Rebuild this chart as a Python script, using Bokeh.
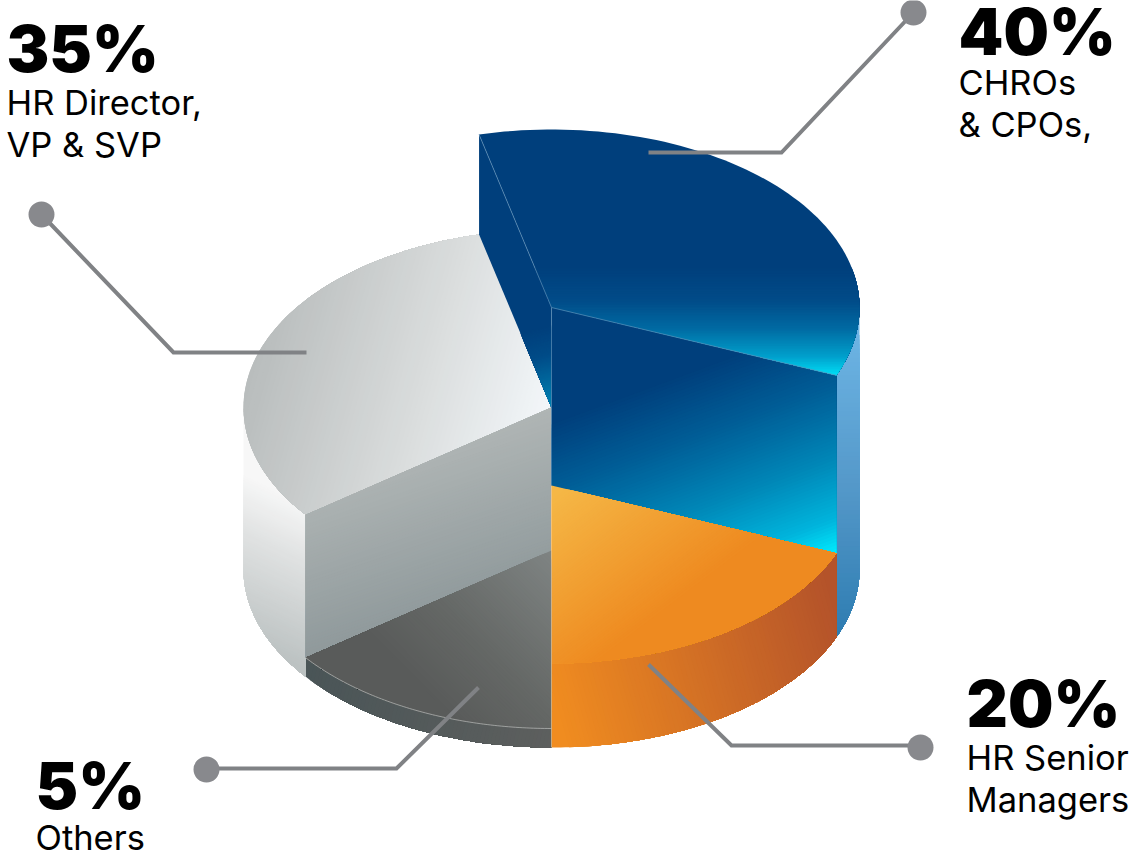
import numpy as np
from bokeh.plotting import figure
from bokeh.models import Range1d
from bokeh.core.properties import value
from bokeh.embed import file_html
from bokeh.resources import INLINE

# ---- chart content ----
shares = ["40%", "35%", "20%", "5%"]
captions = [["CHROs", "& CPOs,"], ["HR Director,", "VP & SVP"], ["HR Senior", "Managers"], ["Others"]]
# drawn sweep of each slice (degrees, clockwise from top): blue, orange, dark, grey
slice_edges = [-13.6, 112.4, 180.0, 232.9, 346.4]
# ---- geometry / style ----
CX, RX, RY = 551.0, 308.0, 178.0
BASE_Y = 569.0
TOP_BLUE, TOP_GREY, TOP_ORANGE, TOP_DARK = 307.0, 407.0, 485.0, 550.0
INK, LEADER = "#000000", "#808285"

p = figure(width=1140, height=854, x_range=Range1d(0, 1140), y_range=Range1d(854, 0),
           output_backend="svg", toolbar_location=None, x_axis_location=None, y_axis_location=None,
           min_border=0, outline_line_color=None, border_fill_color=None, background_fill_color=None)
p.grid.visible = False


def arc(a0, a1, cy, n=80):
    a = np.radians(np.linspace(a0, a1, n))
    return list(zip(CX + RX * np.sin(a), cy - RY * np.cos(a)))


def clip(poly, p0, d, tmin):
    out = []
    f = lambda q: ((q[0] - p0[0]) * d[0] + (q[1] - p0[1]) * d[1]) - tmin
    for i, a in enumerate(poly):
        b = poly[(i + 1) % len(poly)]
        fa, fb = f(a), f(b)
        if fa >= 0:
            out.append(a)
        if (fa >= 0) != (fb >= 0):
            s = fa / (fa - fb)
            out.append((a[0] + s * (b[0] - a[0]), a[1] + s * (b[1] - a[1])))
    return out


def rgb(h):
    return np.array([int(h[i:i + 2], 16) for i in (1, 3, 5)], float)


def grad(poly, p0, p1, stops, n=70):
    v = np.array(p1, float) - np.array(p0, float)
    L = float(np.hypot(*v))
    d = v / L
    ts = np.array([s[0] for s in stops])
    cs = np.array([rgb(s[1]) for s in stops])
    xs, ys, fills = [], [], []
    for i in range(n):
        t = i / (n - 1)
        c = [np.interp(t, ts, cs[:, k]) for k in range(3)]
        part = poly if i == 0 else clip(poly, p0, d, t * L)
        if len(part) < 3:
            continue
        xs.append([q[0] for q in part])
        ys.append([q[1] for q in part])
        fills.append("#%02x%02x%02x" % tuple(int(round(x)) for x in c))
    p.patches(xs, ys, fill_color=fills, line_color=None)


A0, A1, A2, A3, A4 = slice_edges

# outer walls
grad(arc(90, A1, TOP_BLUE) + arc(A1, 90, BASE_Y), (850, 330), (850, 640),
     [(0, "#6cb4e4"), (0.5, "#5498c9"), (1, "#2c7bb0")])
grad(arc(A1, A2, TOP_ORANGE) + arc(A2, A1, BASE_Y), (551, 700), (836, 620),
     [(0, "#f08c20"), (1, "#b4532a")])
grad(arc(A2, A3, TOP_DARK) + arc(A3, A2, BASE_Y), (306, 680), (551, 740),
     [(0, "#4a5557"), (1, "#5d5f5e")])
grad(arc(A3, 270, TOP_GREY + 0) + arc(270, A3, BASE_Y), (312, 505), (248, 640),
     [(0, "#f7f7f7"), (0.35, "#e0e2e2"), (0.7, "#cdd1d1"), (1, "#bcc2c2")])

# grey top and inner face
grad([(CX, TOP_GREY)] + arc(A3, A4, TOP_GREY), (250, 350), (548, 432),
     [(0, "#b8bcbc"), (0.55, "#d9dcdc"), (1, "#f4f8fb")])
face_l = arc(A3, A3, TOP_GREY, 1)[0]
grad([face_l, (CX, TOP_GREY), (CX, TOP_DARK), (face_l[0], TOP_DARK + (face_l[1] - TOP_GREY))],
     (400, 420), (460, 600), [(0, "#b6bbba"), (1, "#909a9c")])

# blue inner faces
bl = arc(A0, A0, TOP_BLUE, 1)[0]
grad([bl, (CX, TOP_BLUE), (CX, TOP_GREY), (bl[0], bl[1] + TOP_GREY - TOP_BLUE)],
     (525, 330), (545, 410), [(0, "#003f7c"), (0.35, "#014c88"), (1, "#0087b6")])
br = arc(A1, A1, TOP_BLUE, 1)[0]
grad([(CX, TOP_BLUE), br, (br[0], br[1] + TOP_ORANGE - TOP_BLUE), (CX, TOP_ORANGE)],
     (620, 395), (697, 603), [(0, "#003f7c"), (0.3, "#005f98"), (0.6, "#0088b8"), (0.85, "#00b4dc"), (1, "#00ecff")])
grad([(CX, TOP_BLUE)] + arc(A0, A1, TOP_BLUE), (650, 265), (650, 378),
     [(0, "#003f7c"), (0.3, "#014b88"), (0.55, "#006aa2"), (0.8, "#00a0cc"), (1, "#00ecff")])

# orange and dark tops
grad([(CX, TOP_ORANGE)] + arc(A1, A2, TOP_ORANGE), (560, 490), (655, 615),
     [(0, "#f5b746"), (1, "#ee8a20")])
grad([(CX, TOP_DARK)] + arc(A2, A3, TOP_DARK), (551, 555), (420, 685),
     [(0, "#7e8382"), (0.6, "#656866"), (1, "#595b5a")])

# thin highlights along the slice edges
edge_a = "#5f90b8"
p.line([bl[0], CX], [bl[1], TOP_BLUE], line_color=edge_a, line_width=0.7)
p.line([CX, br[0]], [TOP_BLUE, br[1]], line_color=edge_a, line_width=0.7)
p.line([CX, CX], [TOP_BLUE, TOP_ORANGE], line_color=edge_a, line_width=0.7)
p.line([CX, CX], [TOP_ORANGE, BASE_Y + RY], line_color="#f7c98c", line_width=0.7)
da = arc(A2, A3, TOP_DARK)
p.line([q[0] for q in da], [q[1] for q in da], line_color="#b9bcba", line_width=0.7)

# leaders: (x list, y list)
leader_x = [[648, 781, 913], [306, 173, 41], [648, 731, 920], [478, 396, 206]]
leader_y = [[152, 152, 12], [352, 352, 214], [664, 745, 745], [687, 768, 768]]
dot_x = [913, 41, 920, 206]
dot_y = [12, 214, 747, 769]
for lx, ly in zip(leader_x, leader_y):
    p.line(lx, ly, line_color=LEADER, line_width=4, line_join="miter")
p.scatter(dot_x, dot_y, size=26, marker="circle", fill_color="#88898d", line_color=None)

# texts
text_x = [958, 6, 966, 35]
head_y = [55, 72, 727, 809]
line_y = [[95, 137], [115, 157], [770, 812], [850]]
H, B = 64, 34.5
for x, hy, s, caps, ly in zip(text_x, head_y, shares, captions, line_y):
    p.text([x], [hy - 0.38 * H], text=[s], text_font=value("Inter Black"), text_font_size=f"{H}px", text_font_style="bold",
           text_color=INK, text_baseline="alphabetic", text_align="left")
    p.text([x] * len(caps), [y - 0.38 * B for y in ly], text=caps, text_font=value("Inter"), text_font_size=f"{B}px",
           text_color=INK, text_baseline="alphabetic", text_align="left")

open("out.html", "w").write(file_html(p, INLINE))
